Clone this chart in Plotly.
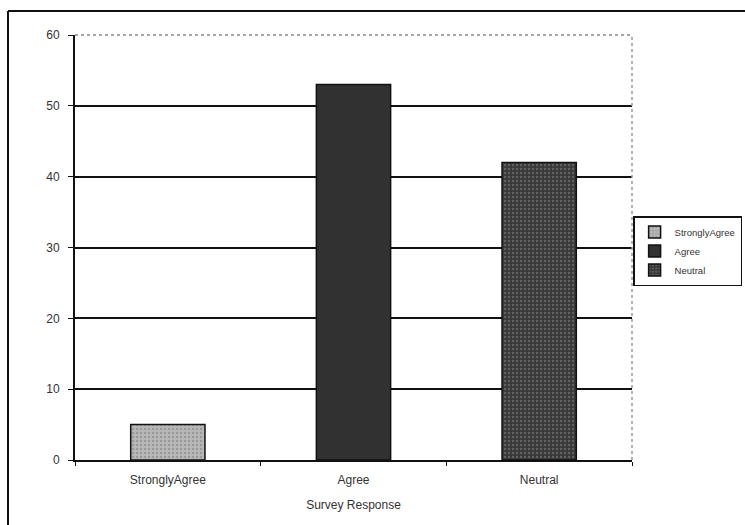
import plotly.graph_objects as go

categories = ["StronglyAgree", "Agree", "Neutral"]
values = [5, 53, 42]
y_ticks = [0, 10, 20, 30, 40, 50, 60]

styles = {
    "StronglyAgree": dict(bg="#b8b8b8", fg="#7a7a7a"),
    "Agree": dict(bg="#313131", fg="#313131"),
    "Neutral": dict(bg="#383838", fg="#8a8a8a"),
}

fig = go.Figure()
for cat, val in zip(categories, values):
    st = styles[cat]
    fig.add_trace(go.Bar(
        x=[cat], y=[val], name=cat, width=0.4,
        marker=dict(
            color=st["bg"],
            line=dict(color="#111111", width=1.5),
            pattern=dict(shape=".", fgcolor=st["fg"], bgcolor=st["bg"], size=4, solidity=0.3),
        ),
    ))

font_family = "Liberation Sans, Arial, sans-serif"

fig.update_layout(
    width=745, height=525,
    margin=dict(l=75, r=113, t=35, b=65, autoexpand=False),
    paper_bgcolor="white", plot_bgcolor="white",
    barmode="overlay",
    font=dict(family=font_family, size=12, color="#333333"),
    showlegend=True,
    legend=dict(
        x=1.002, y=0.574, xanchor="left", yanchor="top",
        bordercolor="#111111", borderwidth=1.5,
        font=dict(size=9.5, color="#333333"),
        bgcolor="white", itemwidth=30, tracegroupgap=0,
    ),
    xaxis=dict(
        categoryorder="array", categoryarray=categories,
        showline=True, linecolor="#111111", linewidth=2,
        ticks="outside", tickson="boundaries", ticklen=4, tickcolor="#111111",
        ticklabelstandoff=8,
        showgrid=False,
        title=dict(text="Survey Response", font=dict(size=12), standoff=14),
    ),
    yaxis=dict(
        range=[0, 60], tickvals=y_ticks,
        showline=True, linecolor="#111111", linewidth=2,
        ticks="outside", ticklen=5, tickcolor="#111111",
        ticklabelstandoff=6,
        showgrid=True, gridcolor="#111111", gridwidth=1.8,
        zeroline=False,
    ),
    shapes=[
        # plot-area top/right border (gray dashed)
        dict(type="line", xref="paper", yref="paper", x0=0, x1=1, y0=1, y1=1,
             line=dict(color="white", width=3), layer="above"),
        dict(type="line", xref="paper", yref="paper", x0=0, x1=1, y0=1, y1=1,
             line=dict(color="#888888", width=1.5, dash="dot"), layer="above"),
        dict(type="line", xref="paper", yref="paper", x0=1, x1=1, y0=0, y1=1,
             line=dict(color="#999999", width=1.5, dash="dot"), layer="above"),
        # outer frame (top and left edges)
        dict(type="line", xref="paper", yref="paper", x0=-0.1203, x1=1.3, y0=1.0565, y1=1.0565,
             line=dict(color="#111111", width=2)),
        dict(type="line", xref="paper", yref="paper", x0=-0.1203, x1=-0.1203, y0=1.0565, y1=-0.2,
             line=dict(color="#111111", width=2)),
    ],
)

fig.write_html("out.html", config={"displayModeBar": False},
               post_script="document.body.style.margin='0';")
